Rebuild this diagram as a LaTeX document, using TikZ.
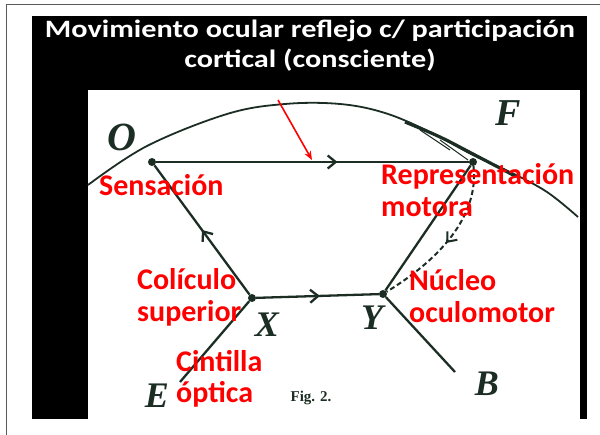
\documentclass[tikz,border=0pt]{standalone}
\usepackage{fontspec}
\setmainfont{Liberation Serif}
\newfontfamily\calibri{Carlito}
\newfontfamily\calibriwide[FakeStretch=1.21]{Carlito}
\usepackage{tikz}
\usetikzlibrary{arrows.meta, decorations.markings, positioning}
\definecolor{inkDark}{HTML}{1C2E24}
\definecolor{frameGray}{HTML}{5A5A5A}
\definecolor{labelRed}{HTML}{FF0000}

\begin{document}
\begin{tikzpicture}[
    x=1pt, y=-1pt,
    >=Stealth,
    % --- estilos ---
    nerve/.style={draw=inkDark, line width=2.3pt},
    junction/.style={circle, fill=inkDark, inner sep=0pt, minimum size=8pt},
    region/.style={text=labelRed, font=\calibri\bfseries\fontsize{30}{32}\selectfont,
                   align=left, inner sep=0pt},
    letter/.style={text=inkDark, font=\bfseries\itshape\fontsize{36}{36}\selectfont, inner sep=0pt},
    title/.style={text=white, font=\calibriwide\bfseries\fontsize{25}{30}\selectfont,
                  align=center, inner sep=0pt},
    midarrow/.style={postaction={decorate}, decoration={markings,
                     mark=at position #1 with {\arrow[solid]{Straight Barb[length=8pt, width=13pt]}}}}
]
\useasboundingbox (0,0) rectangle (600,435);

% ====== Marco ======
\draw[frameGray, line width=1pt] (6,435) -- (6,5) -- (600,5);
\fill[black] (32,16) rectangle (587,90);
\fill[black] (32,90) rectangle (88,419);
\fill[black] (580,90) rectangle (587,419);

\node[title, anchor=base] (Titulo) at (310,68)
    {Movimiento ocular reflejo c/ participación\\cortical (consciente)};

% ====== Corteza (arco O--F) ======
\draw[inkDark, line width=1.8pt] plot[smooth, tension=0.6] coordinates
    {(88,185) (147,146) (227,114) (285,104) (340,104) (385,113) (430,132)
     (473,155) (510,172) (547,192) (578,217)};
\draw[inkDark, line width=3.2pt] plot[smooth, tension=0.6] coordinates
    {(405,122) (440,137) (473,154) (515,176)};
\draw[inkDark, line width=1pt] (420,130) -- (450,150);
\draw[inkDark, line width=1pt] (440,140) -- (468,160);

% ====== Centros ======
\node[junction] (Sens) at (152,162) {};
\node[junction] (Rep) at (473,162) {};
\node[junction] (Xc) at (252,298) {};
\node[junction] (Yc) at (383,294) {};
\coordinate (Eend) at (180,382);
\coordinate (Bend) at (455,372);
\coordinate (Stim) at (278,100);
\coordinate (StimEnd) at (312,160);

% ====== Vías ======
\draw[nerve] (Eend) -- (Xc);
\draw[nerve, midarrow=0.5] (Xc) -- (Sens);
\draw[nerve, midarrow=0.58] (Sens) -- (Rep);
\draw[nerve, midarrow=0.52] (Xc) -- (Yc);
\draw[nerve] (Yc) -- (Rep);
\draw[nerve] (Yc) -- (Bend);
\draw[inkDark, line width=2pt, dash pattern=on 5pt off 3pt, midarrow=0.52]
    (Rep) .. controls (478,205) and (455,250) .. (Yc);

% estímulo
\draw[labelRed, line width=1.6pt, -{Stealth[length=9pt, width=7pt]}] (Stim) -- (StimEnd);

% ====== Letras de la figura ======
\node[letter, font=\bfseries\itshape\fontsize{40}{40}\selectfont] (LO) at (122,137) {O};
\node[letter, font=\bfseries\itshape\fontsize{38}{38}\selectfont] (LF) at (508,113) {F};
\node[letter] (LX) at (267,325) {X};
\node[letter] (LY) at (372,318) {Y};
\node[letter] (LE) at (157,396) {E};
\node[letter] (LB) at (487,384) {B};
\node[text=inkDark, font=\bfseries\fontsize{15}{15}\selectfont] (Fig) at (311,398) {Fig. 2.};

% ====== Rótulos ======
\node[region, anchor=base west] (lSens) at (99,196) {Sensación};
\node[region, anchor=base west] (lRep) at (381,217) {Representación\\motora};
\node[region, anchor=base west] (lCol) at (137,322) {Colículo\\superior};
\node[region, anchor=base west] (lCin) at (176,403) {Cintilla\\óptica};
\node[region, anchor=base west] (lNuc) at (409,323) {Núcleo\\oculomotor};

\end{tikzpicture}
\end{document}
